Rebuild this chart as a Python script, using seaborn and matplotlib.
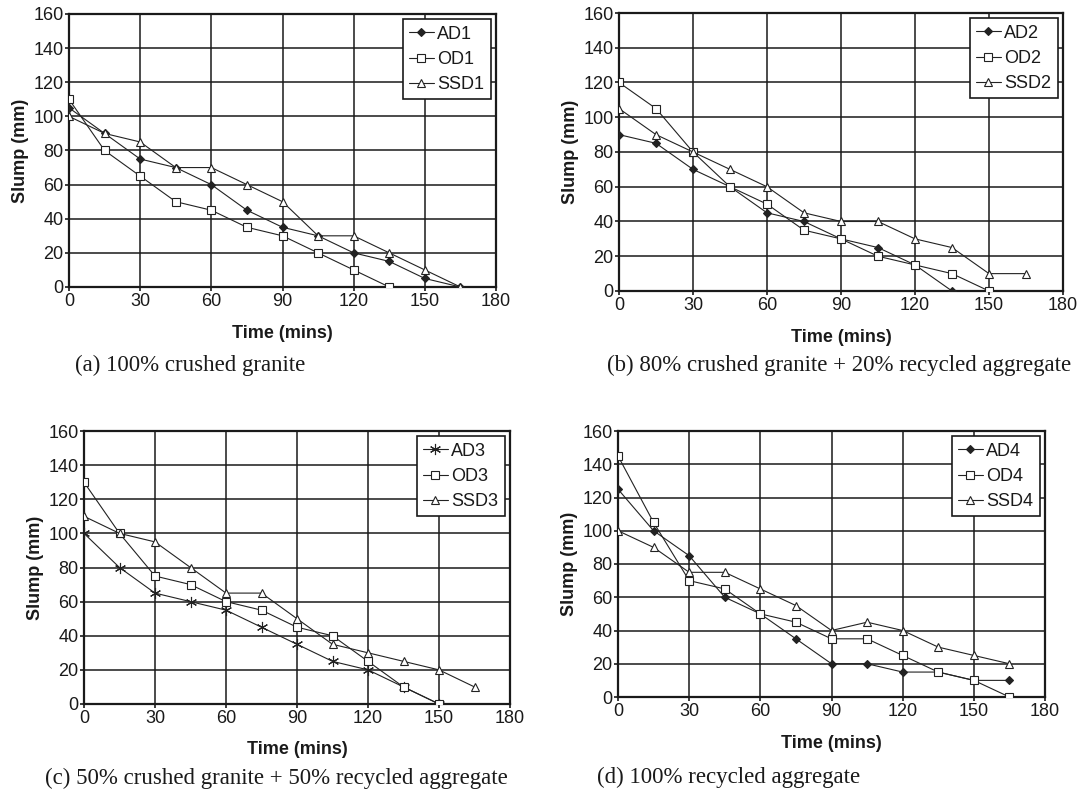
import pandas as pd
import seaborn as sns
import matplotlib.pyplot as plt

# time in minutes, readings every 15 min
t = [0, 15, 30, 45, 60, 75, 90, 105, 120, 135, 150, 165]

# (a) 100% crushed granite
ad1 = [105, 90, 75, 70, 60, 45, 35, 30, 20, 15, 5, 0]
od1 = [110, 80, 65, 50, 45, 35, 30, 20, 10, 0]
ssd1 = [100, 90, 85, 70, 70, 60, 50, 30, 30, 20, 10, 0]

# (b) 80% granite + 20% RA
ad2 = [90, 85, 70, 60, 45, 40, 30, 25, 15, 0]
od2 = [120, 105, 80, 60, 50, 35, 30, 20, 15, 10, 0]
ssd2 = [105, 90, 80, 70, 60, 45, 40, 40, 30, 25, 10, 10]

# (c) 50% granite + 50% RA
ad3 = [100, 80, 65, 60, 55, 45, 35, 25, 20, 10, 0]
od3 = [130, 100, 75, 70, 60, 55, 45, 40, 25, 10, 0]
ssd3 = [110, 100, 95, 80, 65, 65, 50, 35, 30, 25, 20, 10]

# (d) 100% RA
ad4 = [125, 100, 85, 60, 50, 35, 20, 20, 15, 15, 10, 10]
od4 = [145, 105, 70, 65, 50, 45, 35, 35, 25, 15, 10, 0]
ssd4 = [100, 90, 75, 75, 65, 55, 40, 45, 40, 30, 25, 20]

captions = ["(a) 100% crushed granite",
            "(b) 80% crushed granite + 20% recycled aggregate",
            "(c) 50% crushed granite + 50% recycled aggregate",
            "(d) 100% recycled aggregate"]

sns.set_style("white")
plt.rcParams['font.family'] = ['Liberation Sans', 'DejaVu Sans']

W, H = 1086, 795
fig = plt.figure(figsize=(W / 100, H / 100), dpi=100)

# axes boxes in pixels: left, right, top, bottom
boxes = [(69, 496, 14, 287), (619, 1063, 13, 291),
         (84, 510, 431, 704), (618, 1045, 431, 697)]
panels = [
    [("AD1", ad1, "D"), ("OD1", od1, "s"), ("SSD1", ssd1, "^")],
    [("AD2", ad2, "D"), ("OD2", od2, "s"), ("SSD2", ssd2, "^")],
    [("AD3", ad3, (6, 2, 0)), ("OD3", od3, "s"), ("SSD3", ssd3, "^")],
    [("AD4", ad4, "D"), ("OD4", od4, "s"), ("SSD4", ssd4, "^")],
]
cap_pos = [(75, 365), (607, 365), (45, 778), (597, 777)]
xlab_y = [334, 338, 750, 744]

for i, (box, series) in enumerate(zip(boxes, panels)):
    l, r, tp, b = box
    ax = fig.add_axes([l / W, 1 - b / H, (r - l) / W, (b - tp) / H])
    for name, vals, mk in series:
        if mk == "D":
            kw = dict(markersize=4, markerfacecolor="#222222")
        elif mk == "s":
            kw = dict(markersize=5.5, markerfacecolor="white")
        elif mk == "^":
            kw = dict(markersize=6, markerfacecolor="white")
        else:
            kw = dict(markersize=8, markerfacecolor="none")
        sns.lineplot(x=t[:len(vals)], y=vals, ax=ax, color="#222222",
                     marker=mk, markeredgecolor="#222222", markeredgewidth=0.8,
                     linewidth=0.8, label=name, zorder=3, **kw)
    ax.set_xlim(0, 180)
    ax.set_ylim(0, 160)
    ax.set_xticks(range(0, 181, 30))
    ax.set_yticks(range(0, 161, 20))
    ax.grid(True, color="#1a1a1a", linewidth=1.1)
    ax.set_axisbelow(True)
    for sp in ax.spines.values():
        sp.set_color("#1a1a1a")
        sp.set_linewidth(1.6)
    ax.tick_params(direction="out", length=3, width=1.2, color="#1a1a1a",
                   labelsize=13, pad=1, left=True, bottom=True,
                   labelcolor="#1a1a1a")
    ax.set_xlabel("")
    ax.set_ylabel("Slump (mm)", fontsize=13, fontweight="bold", labelpad=3,
                  color="#1a1a1a")
    fig.text((l + r) / 2 / W, 1 - xlab_y[i] / H, "Time (mins)",
             ha="center", va="center", fontsize=13, fontweight="bold",
             color="#1a1a1a")
    leg = ax.legend(loc="upper right", fontsize=13, frameon=True,
                    fancybox=False, edgecolor="#1a1a1a", framealpha=1,
                    handlelength=1.35, handletextpad=0.2, borderpad=0.35,
                    labelspacing=0.45, borderaxespad=0.3)
    leg.get_frame().set_linewidth(1.2)
    for txt in leg.get_texts():
        txt.set_color("#1a1a1a")
    cx, cy = cap_pos[i]
    fig.text(cx / W, 1 - cy / H, captions[i], ha="left", va="center",
             fontsize=16.5, family=["Liberation Serif", "DejaVu Serif"],
             color="#1a1a1a")

fig.savefig("out.png", dpi=100, facecolor="white")
